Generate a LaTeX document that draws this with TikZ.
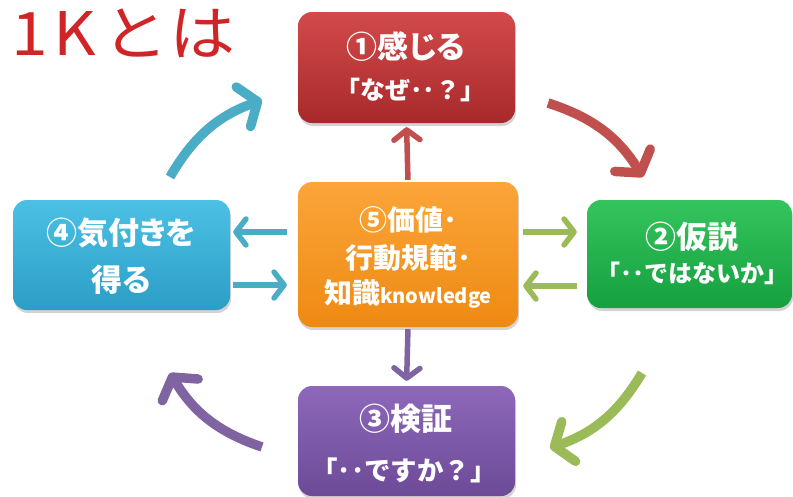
\documentclass[tikz,border=0pt]{standalone}
\usepackage{fontspec}
\newfontfamily\jp[RawFeature=+palt]{Noto Sans CJK JP}
\newfontfamily\jpf{Noto Sans CJK JP}
\usetikzlibrary{arrows.meta,shadows,calc}
\definecolor{redA}{HTML}{D24A4B}
\definecolor{redB}{HTML}{A8292B}
\definecolor{orA}{HTML}{FBA53A}
\definecolor{orB}{HTML}{EE8A12}
\definecolor{grA}{HTML}{34C45C}
\definecolor{grB}{HTML}{16A040}
\definecolor{blA}{HTML}{4CC0E4}
\definecolor{blB}{HTML}{2C9EC6}
\definecolor{puA}{HTML}{8E68BA}
\definecolor{puB}{HTML}{6D4A98}
\definecolor{arRed}{HTML}{C0504D}
\definecolor{arBlue}{HTML}{4BACC6}
\definecolor{arGreen}{HTML}{9BBB59}
\definecolor{arPurple}{HTML}{8064A2}
\definecolor{titleRed}{HTML}{D02426}
\begin{document}
\begin{tikzpicture}[x=1pt,y=-1pt,
  box/.style={rounded corners=14pt, draw=none, inner sep=0pt,
    drop shadow={opacity=0.35,shadow xshift=1pt,shadow yshift=-3pt}},
  tA/.style={text=white, inner sep=0pt, font=\jp\bfseries\fontsize{31}{31}\selectfont},
  tB/.style={text=white, inner sep=0pt, font=\jpf\bfseries\fontsize{#1}{#1}\selectfont},
  tC/.style={text=white, inner sep=0pt, font=\jp\bfseries\fontsize{28}{28}\selectfont},
  sarrow/.style={line width=5.5pt, -{Straight Barb[length=10pt,width=26pt,round]}},
  carrow/.style={line width=9.5pt, -{Straight Barb[length=15pt,width=42pt,round]}},
  ttl/.style={text=titleRed, inner sep=0pt, font=\jp\fontsize{60}{60}\selectfont}
]
\useasboundingbox (0,0) rectangle (793,496);

% title
\node[ttl, anchor=west] (title) at (11,33) {\scalebox{1.1}[1]{1\hspace{5pt}K\hspace{8pt}と\hspace{6pt}は}};

% boxes
\node[box, top color=redA, bottom color=redB, minimum width=217pt, minimum height=111pt] (feel) at (406.5,67.5) {};
\node[box, top color=orA, bottom color=orB, minimum width=220pt, minimum height=145pt] (core) at (408,254.5) {};
\node[box, top color=grA, bottom color=grB, minimum width=205pt, minimum height=108pt] (hyp) at (689.5,254) {};
\node[box, top color=blA, bottom color=blB, minimum width=217pt, minimum height=110pt] (aware) at (121.5,255) {};
\node[box, top color=puA, bottom color=puB, minimum width=217pt, minimum height=110pt] (check) at (406.5,441) {};

% texts
\node[tA] (feel1) at (406,47) {①感じる};
\node[tB=25] (feel2) at (410,90) {「なぜ･･？」};
\node[tC] (core1) at (408,220) {⑤価値･};
\node[tC] (core2) at (408,258) {行動規範･};
\node[tC] (core3) at (408,294) {知識{\fontsize{20}{20}\selectfont knowledge}};
\node[tA] (hyp1) at (692,237) {②仮説};
\node[tB=24] (hyp2) at (692,273) {「･･ではないか」};
\node[tA] (aware1) at (121,233) {④気付きを};
\node[tA] (aware2) at (121,280) {得る};
\node[tA] (check1) at (406,419) {③検証};
\node[tB=26.5] (check2) at (404,470) {「･･ですか？」};

% straight arrows
\draw[sarrow, arRed, shorten <=2pt, shorten >=4pt] (core.north) -- (feel.south);
\draw[sarrow, arPurple, shorten <=2pt, shorten >=5pt] (core.south) -- (check.north);
\draw[sarrow, arBlue, shorten <=11pt, shorten >=3pt] ([yshift=22.5pt]core.west) -- ([yshift=23pt]aware.east);
\draw[sarrow, arBlue, shorten <=3pt, shorten >=11pt] ([yshift=-30pt]aware.east) -- ([yshift=-30.5pt]core.west);
\draw[sarrow, arGreen, shorten <=5pt, shorten >=10pt] ([yshift=22.5pt]core.east) -- ([yshift=22pt]hyp.west);
\draw[sarrow, arGreen, shorten <=10pt, shorten >=5pt] ([yshift=-32pt]hyp.west) -- ([yshift=-31.5pt]core.east);

% curved arrows
\coordinate (r1) at (548,103); \coordinate (r2) at (643,177);
\coordinate (g1) at (642,373); \coordinate (g2) at (550,448);
\coordinate (p1) at (262,447); \coordinate (p2) at (170,373);
\coordinate (b1) at (170,177); \coordinate (b2) at (262,100);
\draw[carrow, arRed] (r1) to[bend left=20] (r2);
\draw[carrow, arGreen] (g1) to[bend left=20] (g2);
\draw[carrow, arPurple] (p1) to[bend left=20] (p2);
\draw[carrow, arBlue] (b1) to[bend left=20] (b2);
\end{tikzpicture}
\end{document}
